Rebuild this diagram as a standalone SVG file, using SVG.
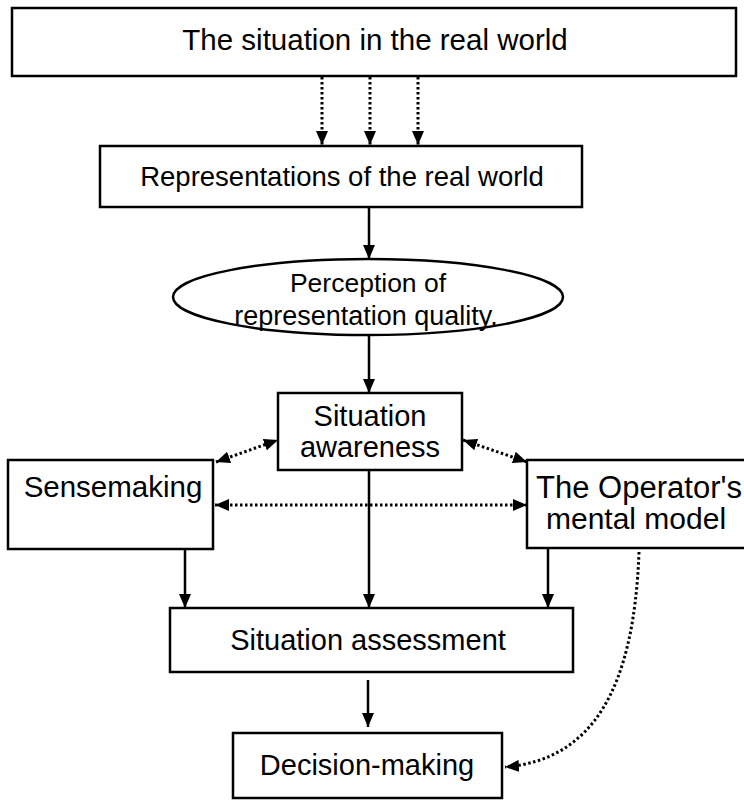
<svg xmlns="http://www.w3.org/2000/svg" width="744" height="801" viewBox="0 0 744 801">
  <style>
    .box { fill: #ffffff; stroke: #000000; stroke-width: 2.5; }
    .lbl { font-family: "Liberation Sans", Arial, sans-serif; fill: #000000; text-anchor: middle; }
    .solid { fill: none; stroke: #000000; stroke-width: 2.5; }
    .dot { fill: none; stroke: #000000; stroke-width: 3; stroke-dasharray: 2.5 2.5; }
  </style>
  <defs>
    <marker id="head" viewBox="0 0 14 12" refX="14" refY="6" markerWidth="14" markerHeight="12" markerUnits="userSpaceOnUse" orient="auto-start-reverse">
      <path d="M0,0 L14,6 L0,12 Z" fill="#000000"/>
    </marker>
  </defs>

  <rect width="744" height="801" fill="#ffffff"/>

  <!-- connectors -->
  <g id="connectors">
    <line class="dot" x1="322" y1="77" x2="322" y2="145" marker-end="url(#head)"/>
    <line class="dot" x1="370" y1="77" x2="370" y2="145" marker-end="url(#head)"/>
    <line class="dot" x1="418" y1="77" x2="418" y2="145" marker-end="url(#head)"/>
    <line class="solid" x1="369" y1="208" x2="369" y2="259" marker-end="url(#head)"/>
    <line class="solid" x1="369" y1="336" x2="369" y2="393" marker-end="url(#head)"/>
    <line class="dot" x1="216" y1="462" x2="278" y2="440" marker-start="url(#head)" marker-end="url(#head)"/>
    <line class="dot" x1="463" y1="440" x2="527" y2="462" marker-start="url(#head)" marker-end="url(#head)"/>
    <line class="dot" x1="215" y1="505" x2="527" y2="505" marker-start="url(#head)" marker-end="url(#head)"/>
    <line class="solid" x1="369" y1="471" x2="369" y2="608" marker-end="url(#head)"/>
    <line class="solid" x1="185" y1="550" x2="185" y2="608" marker-end="url(#head)"/>
    <line class="solid" x1="548" y1="549" x2="548" y2="608" marker-end="url(#head)"/>
    <line class="solid" x1="368" y1="680" x2="368" y2="727" marker-end="url(#head)"/>
    <path class="dot" d="M639,552 C634,690 592,760 505,767" marker-end="url(#head)"/>
  </g>

  <g id="real-world">
    <rect class="box" x="12" y="8" width="724" height="68"/>
    <text class="lbl" x="375" y="50" font-size="29.5">The situation in the real world</text>
  </g>

  <g id="representations">
    <rect class="box" x="100" y="146" width="482" height="61"/>
    <text class="lbl" x="342" y="186" font-size="27.5">Representations of the real world</text>
  </g>

  <g id="perception">
    <ellipse class="box" cx="368" cy="297" rx="195" ry="38" stroke-width="1.5"/>
    <text class="lbl" x="368" y="292" font-size="26.5">Perception of</text>
    <text class="lbl" x="366" y="325" font-size="27">representation quality.</text>
  </g>

  <g id="awareness">
    <rect class="box" x="278" y="393" width="184" height="77"/>
    <text class="lbl" x="370" y="426" font-size="29">Situation</text>
    <text class="lbl" x="370" y="457" font-size="29">awareness</text>
  </g>

  <g id="sensemaking">
    <rect class="box" x="8" y="460" width="205" height="89"/>
    <text class="lbl" x="113" y="497" font-size="29.5">Sensemaking</text>
  </g>

  <g id="mental-model">
    <rect class="box" x="527" y="460" width="222" height="88"/>
    <text class="lbl" x="639" y="498" font-size="31">The Operator's</text>
    <text class="lbl" x="636" y="529" font-size="30">mental model</text>
  </g>

  <g id="assessment">
    <rect class="box" x="170" y="608" width="403" height="64"/>
    <text class="lbl" x="368" y="650" font-size="29">Situation assessment</text>
  </g>

  <g id="decision">
    <rect class="box" x="233" y="733" width="269" height="65"/>
    <text class="lbl" x="367" y="775" font-size="29">Decision-making</text>
  </g>
</svg>
